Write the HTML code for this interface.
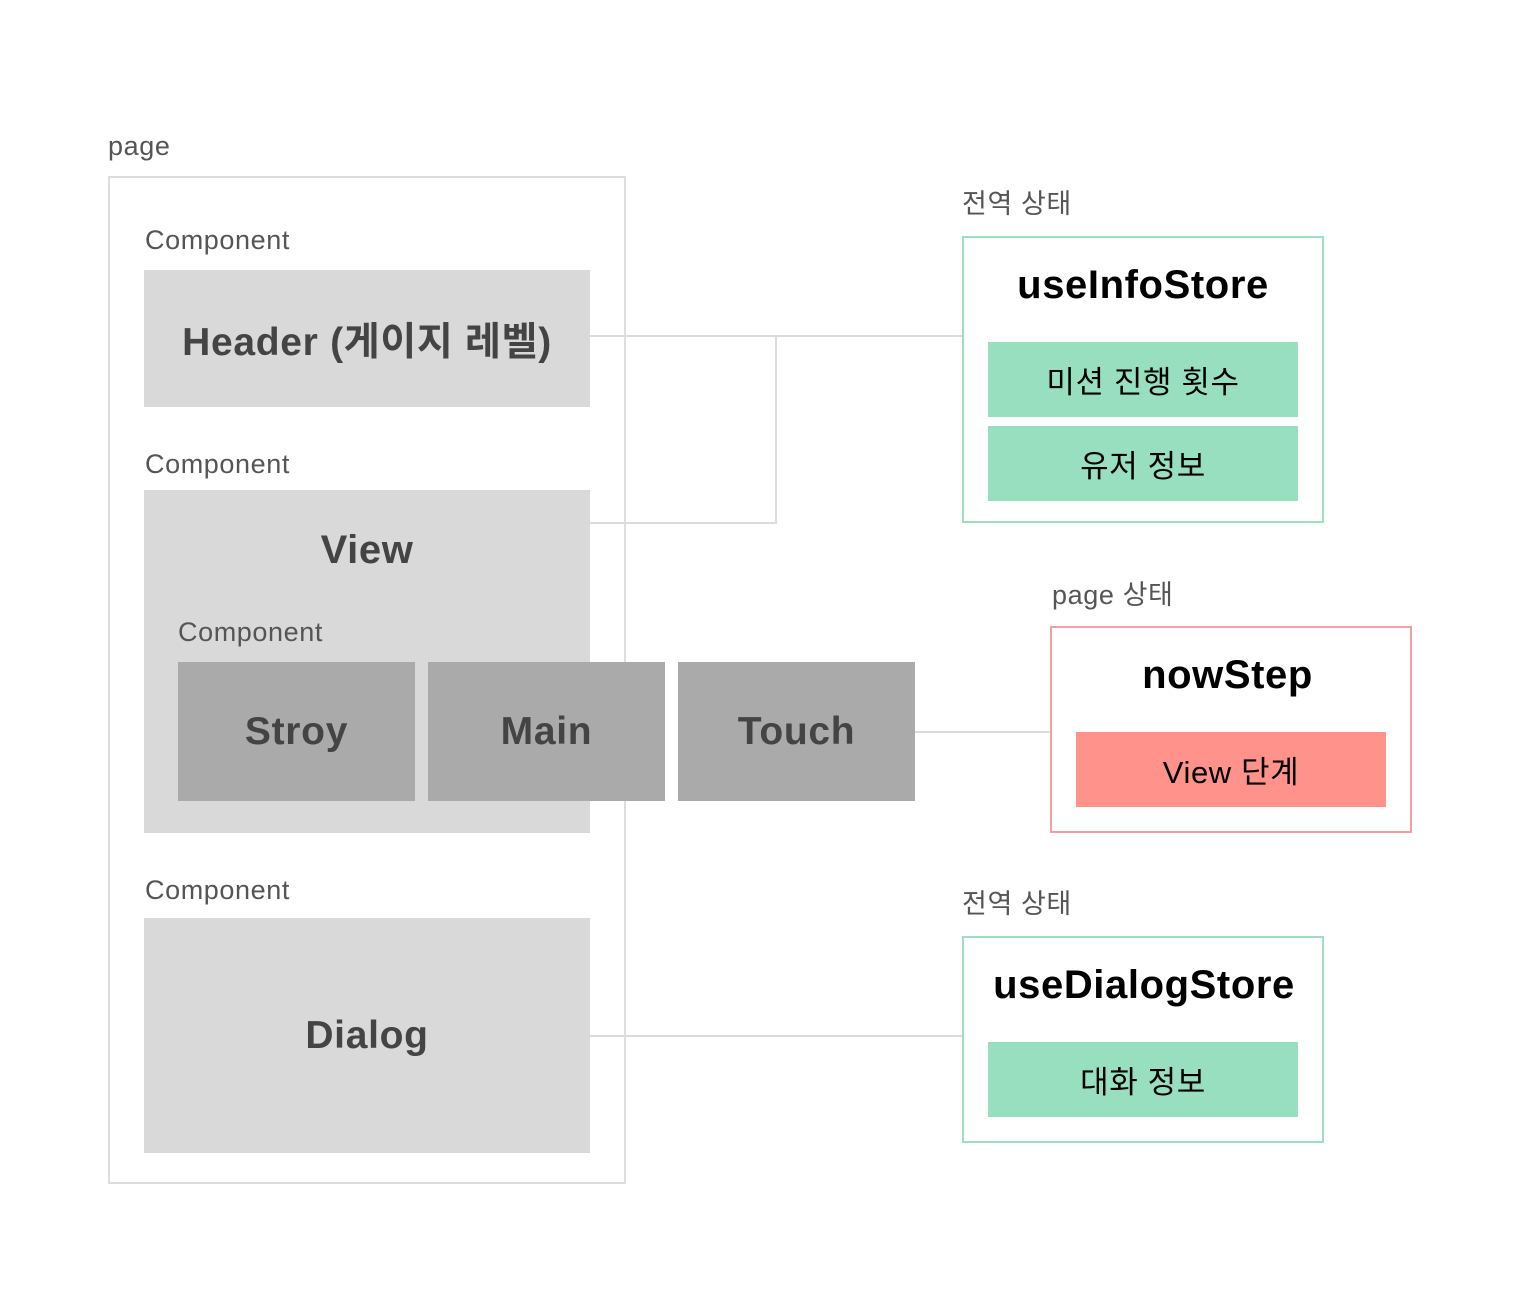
<!DOCTYPE html>
<html><head><meta charset="utf-8"><style>
body{margin:0;width:1520px;height:1300px;background:#fff;position:relative;overflow:hidden;font-family:"Liberation Sans","Noto Sans CJK KR",sans-serif}
.a{position:absolute;box-sizing:border-box}
.lbl{position:absolute;font-size:27px;letter-spacing:0.6px;color:#555;line-height:1;white-space:nowrap}
.g{background:#d9d9d9}
.d{background:#aaa}
.c{display:flex;align-items:center;justify-content:center;font-weight:bold;font-size:39px;letter-spacing:0.7px;color:#444}
.ln{position:absolute;background:#dcdcdc}
.t{position:absolute;font-weight:bold;font-size:40px;letter-spacing:0.6px;color:#000;text-align:center;line-height:1}
.row{display:flex;align-items:center;justify-content:center;font-size:31px;letter-spacing:0.6px;color:#000}
</style></head><body>
<div class="lbl" style="left:108px;top:133px">page</div>
<div class="a" style="left:108px;top:176px;width:518px;height:1008px;border:2px solid #ddd"></div>

<div class="ln" style="left:590px;top:335px;width:372px;height:2px"></div>
<div class="ln" style="left:590px;top:522px;width:187px;height:2px"></div>
<div class="ln" style="left:775px;top:335px;width:2px;height:189px"></div>
<div class="ln" style="left:915px;top:731px;width:135px;height:2px"></div>
<div class="ln" style="left:590px;top:1035px;width:372px;height:2px"></div>

<div class="lbl" style="left:145px;top:227px">Component</div>
<div class="a g c" style="left:144px;top:270px;width:446px;height:137px">Header (게이지 레벨)</div>
<div class="lbl" style="left:145px;top:451px">Component</div>
<div class="a g" style="left:144px;top:490px;width:446px;height:343px"></div>
<div class="t" style="left:144px;top:530px;width:446px;color:#444">View</div>
<div class="lbl" style="left:178px;top:619px">Component</div>
<div class="a d c" style="left:178px;top:662px;width:237px;height:139px">Stroy</div>
<div class="a d c" style="left:428px;top:662px;width:237px;height:139px">Main</div>
<div class="a d c" style="left:678px;top:662px;width:237px;height:139px">Touch</div>
<div class="lbl" style="left:145px;top:877px">Component</div>
<div class="a g c" style="left:144px;top:918px;width:446px;height:235px">Dialog</div>

<div class="lbl" style="left:962px;top:191px">전역 상태</div>
<div class="a" style="left:962px;top:236px;width:362px;height:287px;border:2px solid #9ddfc0"></div>
<div class="t" style="left:962px;top:265px;width:362px">useInfoStore</div>
<div class="a row" style="left:988px;top:342px;width:310px;height:75px;background:#98dfbf">미션 진행 횟수</div>
<div class="a row" style="left:988px;top:426px;width:310px;height:75px;background:#98dfbf">유저 정보</div>

<div class="lbl" style="left:1052px;top:582px">page 상태</div>
<div class="a" style="left:1050px;top:626px;width:362px;height:207px;border:2px solid #f4a0a0"></div>
<div class="t" style="left:1050px;top:655px;width:355px">nowStep</div>
<div class="a row" style="left:1076px;top:732px;width:310px;height:75px;background:#ff928a">View 단계</div>

<div class="lbl" style="left:962px;top:891px">전역 상태</div>
<div class="a" style="left:962px;top:936px;width:362px;height:207px;border:2px solid #9ddfc0"></div>
<div class="t" style="left:962px;top:965px;width:364px">useDialogStore</div>
<div class="a row" style="left:988px;top:1042px;width:310px;height:75px;background:#98dfbf">대화 정보</div>
</body></html>
